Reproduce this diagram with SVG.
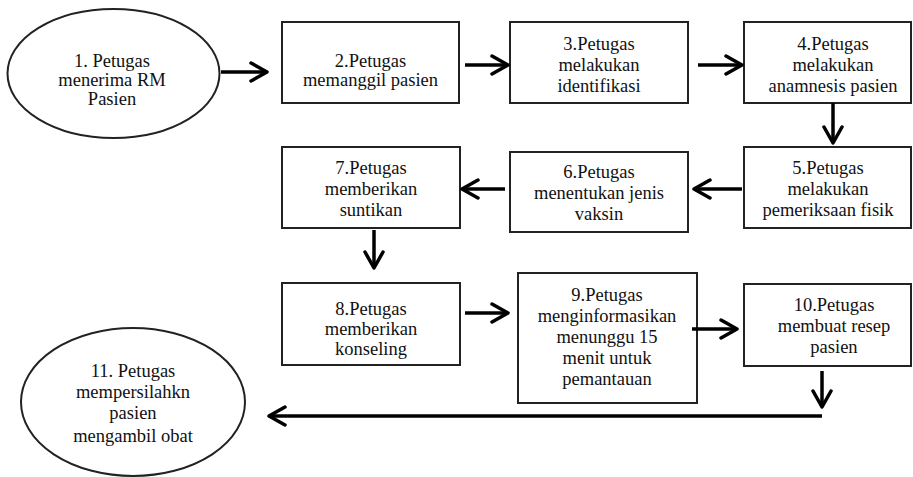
<svg xmlns="http://www.w3.org/2000/svg" width="913" height="477" viewBox="0 0 913 477">
<style>
.box{fill:#fff;stroke:#222;stroke-width:2}
.t{font-size:18.5px;fill:#111;text-anchor:middle}
.c{stroke:#000;stroke-width:3.5;fill:none}
</style>
<defs>
<marker id="ah" viewBox="0 0 22 22" refX="19" refY="11" markerWidth="22" markerHeight="22" markerUnits="userSpaceOnUse" orient="auto">
<path d="M3,2 L19,11 L3,20" fill="none" stroke="#000" stroke-width="3.5" stroke-linecap="round" stroke-linejoin="round"/>
</marker>
</defs>
<rect width="913" height="477" fill="#fff"/>
<g font-family="Liberation Serif, Times New Roman, serif">
<g id="n1"><ellipse class="box" cx="113.5" cy="73.5" rx="106" ry="64.5"/>
<text class="t" x="112" y="67">1. Petugas</text><text class="t" x="112" y="86">menerima RM</text><text class="t" x="112" y="105">Pasien</text></g>
<g id="n2"><rect class="box" x="282" y="22" width="177" height="81"/>
<text class="t" x="370.5" y="67">2.Petugas</text><text class="t" x="370.5" y="86">memanggil pasien</text></g>
<g id="n3"><rect class="box" x="510" y="22" width="178" height="81"/>
<text class="t" x="599" y="50">3.Petugas</text><text class="t" x="599" y="71">melakukan</text><text class="t" x="599" y="92">identifikasi</text></g>
<g id="n4"><rect class="box" x="744" y="22" width="167" height="81"/>
<text class="t" x="833" y="50">4.Petugas</text><text class="t" x="833" y="71">melakukan</text><text class="t" x="833" y="92">anamnesis pasien</text></g>
<g id="n5"><rect class="box" x="744" y="147" width="167" height="81"/>
<text class="t" x="828" y="174">5.Petugas</text><text class="t" x="828" y="195">melakukan</text><text class="t" x="828" y="216">pemeriksaan fisik</text></g>
<g id="n6"><rect class="box" x="510" y="152" width="178" height="80"/>
<text class="t" x="599" y="178">6.Petugas</text><text class="t" x="599" y="199">menentukan jenis</text><text class="t" x="599" y="220">vaksin</text></g>
<g id="n7"><rect class="box" x="282" y="147" width="178" height="81"/>
<text class="t" x="371" y="174">7.Petugas</text><text class="t" x="371" y="195">memberikan</text><text class="t" x="371" y="216">suntikan</text></g>
<g id="n8"><rect class="box" x="282" y="283" width="178" height="82"/>
<text class="t" x="371" y="315">8.Petugas</text><text class="t" x="371" y="335">memberikan</text><text class="t" x="371" y="355">konseling</text></g>
<g id="n9"><rect class="box" x="518" y="273" width="179" height="130"/>
<text class="t" x="607" y="301">9.Petugas</text><text class="t" x="607" y="322">menginformasikan</text><text class="t" x="607" y="343">menunggu 15</text><text class="t" x="607" y="364">menit untuk</text><text class="t" x="607" y="385">pemantauan</text></g>
<g id="n10"><rect class="box" x="744" y="284" width="167" height="82"/>
<text class="t" x="834" y="311">10.Petugas</text><text class="t" x="834" y="332">membuat resep</text><text class="t" x="834" y="353">pasien</text></g>
<g id="n11"><ellipse class="box" cx="133" cy="402" rx="112" ry="74"/>
<text class="t" x="133" y="377">11. Petugas</text><text class="t" x="133" y="398">mempersilahkn</text><text class="t" x="133" y="419">pasien</text><text class="t" x="133" y="442">mengambil obat</text></g>
</g>
<g id="connectors">
<line class="c" x1="221" y1="72" x2="267" y2="72" marker-end="url(#ah)"/>
<line class="c" x1="465" y1="65" x2="508" y2="65" marker-end="url(#ah)"/>
<line class="c" x1="698" y1="65" x2="742" y2="65" marker-end="url(#ah)"/>
<line class="c" x1="833" y1="103" x2="833" y2="143" marker-end="url(#ah)"/>
<line class="c" x1="742" y1="189" x2="694" y2="189" marker-end="url(#ah)"/>
<line class="c" x1="505" y1="189" x2="462" y2="189" marker-end="url(#ah)"/>
<line class="c" x1="374" y1="230" x2="374" y2="268" marker-end="url(#ah)"/>
<line class="c" x1="465" y1="313" x2="508" y2="313" marker-end="url(#ah)"/>
<line class="c" x1="692" y1="329" x2="737" y2="329" marker-end="url(#ah)"/>
<line class="c" x1="822" y1="371" x2="822" y2="407" marker-end="url(#ah)"/>
<line class="c" x1="822" y1="416" x2="269" y2="416" marker-end="url(#ah)"/>
</g>
</svg>
